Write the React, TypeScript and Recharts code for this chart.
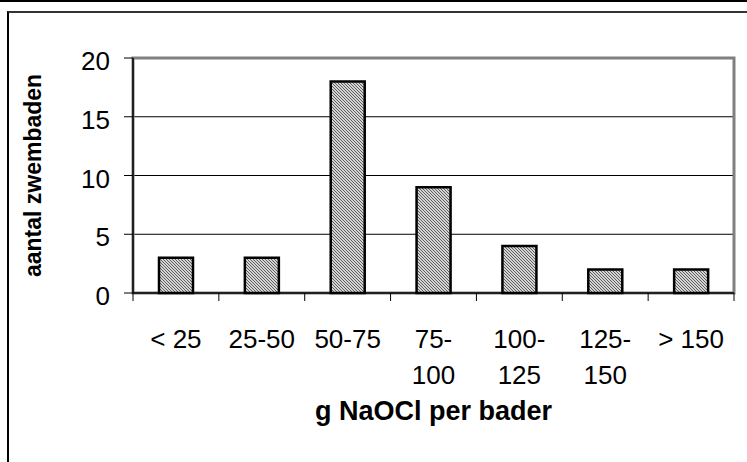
import { Bar, BarChart, CartesianGrid, Label, ReferenceArea, XAxis, YAxis } from "recharts";

const categories = ["< 25", "25-50", "50-75", "75-100", "100-125", "125-150", "> 150"];
const counts = [3, 3, 18, 9, 4, 2, 2];
const yTicks = [0, 5, 10, 15, 20];

const data = categories.map((name, i) => ({ name, count: counts[i] }));

const W = 747;
const H = 462;
const MARGIN = { top: 58, right: 13, left: 0, bottom: 0 };
const Y_AXIS_W = 133;
const BAND = (W - MARGIN.left - MARGIN.right - Y_AXIS_W) / categories.length;
const FONT = "'Liberation Sans', Arial, sans-serif";

// long ranges wrap after the dash, like the original
function splitLabel(label: string) {
  if (label.length > 5 && label.includes("-")) {
    const i = label.indexOf("-");
    return [label.slice(0, i + 1), label.slice(i + 1)];
  }
  return [label];
}

function XTick({ x, y, payload, index }: any) {
  const lines = splitLabel(payload.value);
  const last = index === categories.length - 1;
  return (
    <g>
      <line x1={x - BAND / 2} x2={x - BAND / 2} y1={y} y2={y + 8} stroke="#000" strokeWidth={1} />
      {last && <line x1={x + BAND / 2} x2={x + BAND / 2} y1={y} y2={y + 8} stroke="#000" strokeWidth={1} />}
      <text x={x} y={y} textAnchor="middle" fontSize={26} fontFamily={FONT} fill="#000">
        {lines.map((l, k) => (
          <tspan key={k} x={x} y={y + 55 + k * 36}>
            {l}
          </tspan>
        ))}
      </text>
    </g>
  );
}

function YTick({ x, y, payload }: any) {
  return (
    <text x={x} y={y + 12} textAnchor="end" fontSize={26} fontFamily={FONT} fill="#000">
      {payload.value}
    </text>
  );
}

export default function App() {
  return (
    <div style={{ position: "fixed", left: 0, top: 0, width: W, height: H, background: "#fff" }}>
      <div style={{ position: "absolute", left: 0, top: 0, width: W, height: 2, background: "#000" }} />
      <div
        style={{
          position: "absolute",
          left: 7,
          top: 11,
          width: W - 7,
          height: H - 11,
          borderTop: "2px solid #333",
          borderLeft: "2px solid #000",
          boxSizing: "border-box",
        }}
      />
      <BarChart
        width={W}
        height={H}
        data={data}
        margin={MARGIN}
        style={{ position: "absolute", left: 0, top: 0 }}
      >
        <defs>
          <pattern id="hatch" width="3" height="3" patternUnits="userSpaceOnUse">
            <rect width="3" height="3" fill="#d4d4d4" />
            <path d="M0,0 L3,3 M-1,2 L1,4 M2,-1 L4,1" stroke="#505050" strokeWidth={0.9} />
          </pattern>
        </defs>
        <CartesianGrid vertical={false} stroke="#000" strokeWidth={1} />
        <ReferenceArea y1={0} y2={20} fill="none" stroke="#808080" strokeWidth={3} ifOverflow="visible" />
        <XAxis
          dataKey="name"
          height={H - MARGIN.top - 235}
          axisLine={{ stroke: "#000", strokeWidth: 1.5 }}
          tickLine={false}
          tickSize={0}
          tickMargin={0}
          interval={0}
          tick={<XTick />}
        >
          <Label
            content={({ viewBox }: any) => (
              <text
                x={viewBox.x + viewBox.width / 2}
                y={viewBox.y + 127}
                textAnchor="middle"
                fontSize={27}
                fontWeight="bold"
                fontFamily={FONT}
                fill="#000"
              >
                g NaOCl per bader
              </text>
            )}
          />
        </XAxis>
        <YAxis
          width={Y_AXIS_W}
          domain={[0, 20]}
          ticks={yTicks}
          interval={0}
          axisLine={{ stroke: "#000", strokeWidth: 1.5 }}
          tickLine={{ stroke: "#000" }}
          tickSize={9}
          tickMargin={14}
          tick={<YTick />}
        >
          <Label
            content={({ viewBox }: any) => {
              const cx = 33;
              const cy = viewBox.y + viewBox.height / 2;
              return (
                <text
                  x={cx}
                  y={cy}
                  transform={`rotate(-90 ${cx} ${cy})`}
                  textAnchor="middle"
                  dominantBaseline="central"
                  fontSize={23}
                  fontWeight="bold"
                  fontFamily={FONT}
                  fill="#000"
                >
                  aantal zwembaden
                </text>
              );
            }}
          />
        </YAxis>
        <Bar dataKey="count" barSize={34} fill="url(#hatch)" stroke="#000" strokeWidth={2.5} isAnimationActive={false} />
      </BarChart>
    </div>
  );
}
